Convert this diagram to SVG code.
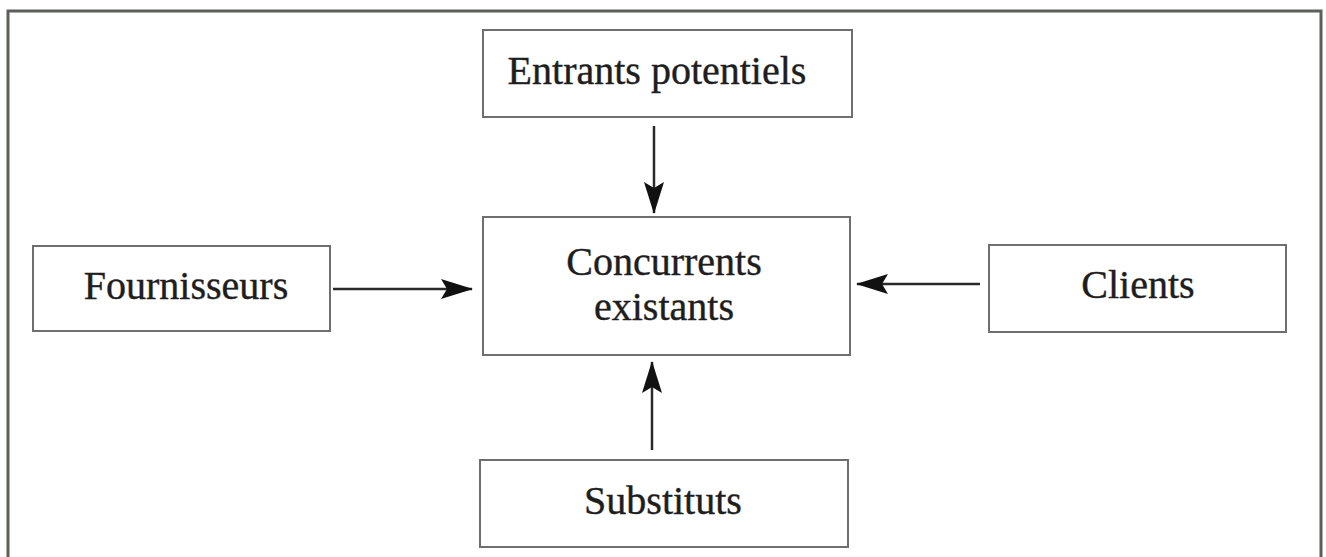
<svg xmlns="http://www.w3.org/2000/svg" width="1326" height="557" viewBox="0 0 1326 557">
<defs>
<style>
.box{fill:#fff;stroke:#6f6f6f;stroke-width:2}
.lbl{font-family:"Liberation Serif","Times New Roman",serif;font-size:40px;fill:#1e1e1e;stroke:#1e1e1e;stroke-width:0.4;text-anchor:middle}
.con{stroke:#2a2a2a;stroke-width:2.5;fill:none;marker-end:url(#ah)}
</style>
<marker id="ah" viewBox="0 0 32 20" refX="31" refY="10" markerWidth="32" markerHeight="20" markerUnits="userSpaceOnUse" orient="auto">
<path d="M0,0 L32,10 L0,20 L6,10 Z" fill="#111"/>
</marker>
</defs>
<rect width="1326" height="557" fill="#fff"/>
<path d="M8,560 L8,11 L1321,11 L1321,560" fill="none" stroke="#5a615a" stroke-width="3"/>
<g id="entrants"><rect class="box" x="483" y="30" width="369" height="87"/><text class="lbl" x="657" y="84">Entrants potentiels</text></g>
<g id="concurrents"><rect class="box" x="483" y="217" width="367" height="138"/><text class="lbl" x="664" y="275">Concurrents</text><text class="lbl" x="664" y="320">existants</text></g>
<g id="fournisseurs"><rect class="box" x="33" y="246" width="297" height="85"/><text class="lbl" x="186" y="299">Fournisseurs</text></g>
<g id="clients"><rect class="box" x="989" y="245" width="297" height="87"/><text class="lbl" x="1138" y="298">Clients</text></g>
<g id="substituts"><rect class="box" x="480" y="460" width="368" height="87"/><text class="lbl" x="663" y="514">Substituts</text></g>
<g id="connectors">
<line class="con" x1="654" y1="126" x2="654" y2="213"/>
<line class="con" x1="333" y1="289" x2="472" y2="289"/>
<line class="con" x1="980" y1="284" x2="857" y2="284"/>
<line class="con" x1="652" y1="450" x2="652" y2="362"/>
</g>
</svg>
